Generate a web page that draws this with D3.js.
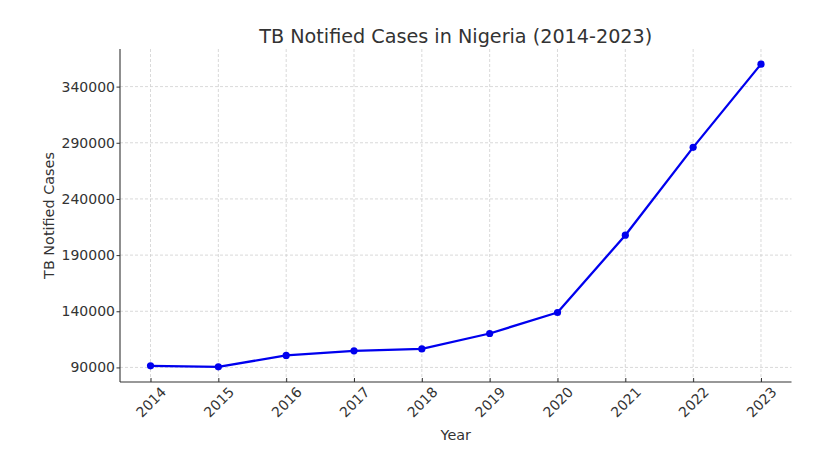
<!DOCTYPE html>
<html><head><meta charset="utf-8">
<script src="https://cdn.jsdelivr.net/npm/d3@7"></script>
<style>body{margin:0;background:#fff}svg{display:block}text{font-family:"DejaVu Sans",sans-serif;fill:#333}</style>
</head><body><svg id="c" width="834" height="451"></svg>
<script>
const years = [2014,2015,2016,2017,2018,2019,2020,2021,2022,2023];
const cases = [91400,90500,100700,104800,106500,120200,138900,207700,285900,360000];
const yTicks = [90000,140000,190000,240000,290000,340000];
const title = "TB Notified Cases in Nigeria (2014-2023)";
const xLabel = "Year", yLabel = "TB Notified Cases";

const m = {l:120, r:834-791.5, t:49, b:451-382};
const W = 834, H = 451;
const svg = d3.select("#c");
const xPad = 0.45, ext = d3.extent(cases), yPad = (ext[1]-ext[0])*0.05;
const x = d3.scaleLinear().domain([years[0]-xPad, years[years.length-1]+xPad]).range([m.l, W-m.r]);
const y = d3.scaleLinear().domain([ext[0]-yPad, ext[1]+yPad]).range([H-m.b, m.t]);

// grid
const g = svg.append("g");
g.selectAll(".gx").data(years).join("line").attr("x1",d=>x(d)).attr("x2",d=>x(d)).attr("y1",m.t).attr("y2",H-m.b)
 .attr("stroke","#cfcfcf").attr("stroke-width",0.8).attr("stroke-dasharray","3,2");
g.selectAll(".gy").data(yTicks).join("line").attr("y1",d=>y(d)).attr("y2",d=>y(d)).attr("x1",m.l).attr("x2",W-m.r)
 .attr("stroke","#cfcfcf").attr("stroke-width",0.8).attr("stroke-dasharray","3,2");

// axes
const xa = svg.append("g").attr("transform",`translate(0,${H-m.b})`)
 .call(d3.axisBottom(x).tickValues(years).tickSize(-4).tickPadding(0).tickFormat(d3.format("d")));
xa.select(".domain").attr("stroke","#333").attr("stroke-width",1.1).attr("d",`M${m.l},0H${W-m.r}`);
xa.selectAll(".tick line").attr("stroke","#333");
xa.selectAll(".tick text").attr("font-size",14).attr("fill","#333").attr("text-anchor","middle")
 .attr("dy",null).attr("y",null).attr("dominant-baseline","central")
 .attr("transform","translate(0,20) rotate(-45)");

const ya = svg.append("g").attr("transform",`translate(${m.l},0)`)
 .call(d3.axisLeft(y).tickValues(yTicks).tickSize(3.5).tickPadding(5).tickFormat(d3.format("d")));
ya.select(".domain").attr("stroke","#333").attr("stroke-width",1.1).attr("d",`M0,${H-m.b}V${m.t}`);
ya.selectAll(".tick line").attr("stroke","#333");
ya.selectAll(".tick text").attr("font-size",14).attr("fill","#333").attr("x",-5);

// line
svg.append("path").datum(years.map((d,i)=>[d,cases[i]]))
 .attr("d",d3.line().x(d=>x(d[0])).y(d=>y(d[1])))
 .attr("fill","none").attr("stroke","#0000ee").attr("stroke-width",2.3).attr("stroke-linejoin","round");
svg.selectAll(".pt").data(years).join("circle").attr("cx",d=>x(d)).attr("cy",(d,i)=>y(cases[i]))
 .attr("r",3.6).attr("fill","#0000ee");

// labels
svg.append("text").attr("x",(m.l+W-m.r)/2).attr("y",43).attr("text-anchor","middle").attr("font-size",19.2).text(title);
svg.append("text").attr("x",(m.l+W-m.r)/2).attr("y",440).attr("text-anchor","middle").attr("font-size",14.4).text(xLabel);
svg.append("text").attr("transform",`translate(53.5,${(m.t+H-m.b)/2}) rotate(-90)`).attr("text-anchor","middle").attr("font-size",14.4).text(yLabel);
</script></body></html>
